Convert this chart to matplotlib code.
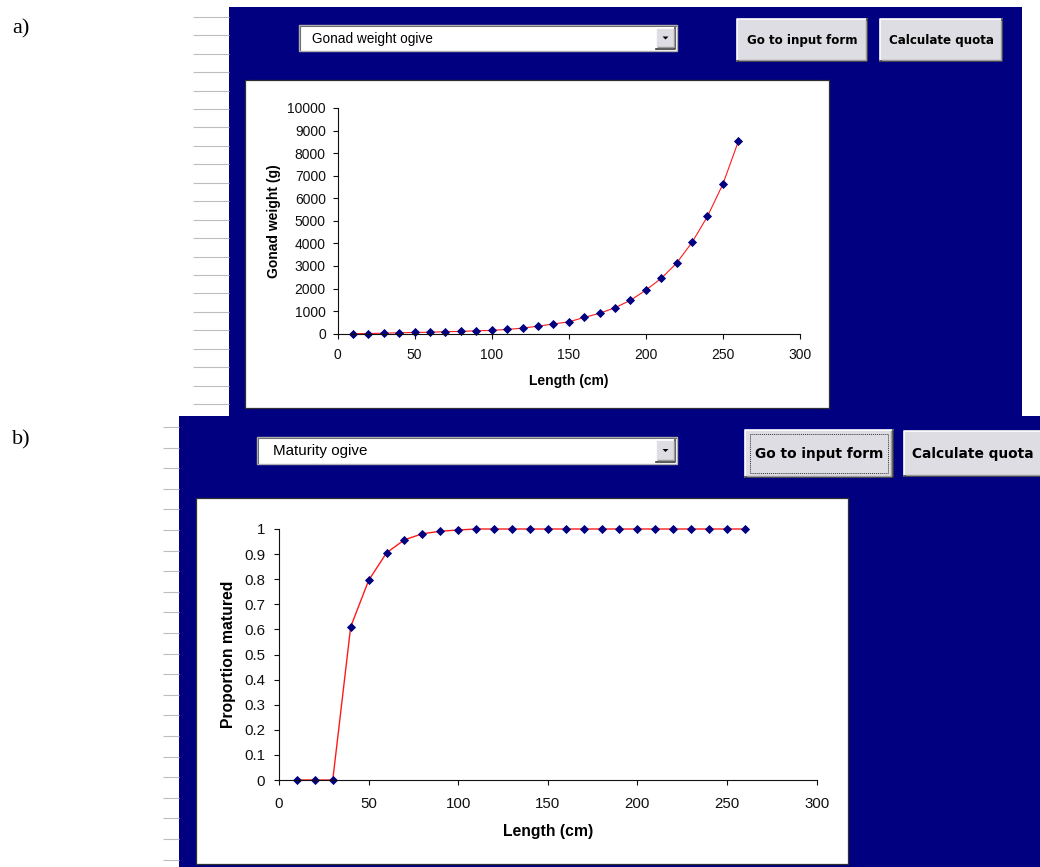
import numpy as np
import matplotlib
matplotlib.use('Agg')
import matplotlib.pyplot as plt
from matplotlib.patches import Rectangle, Polygon
from matplotlib.ticker import FuncFormatter

# Values
length_cm = [10, 20, 30, 40, 50, 60, 70, 80, 90, 100, 110, 120, 130,
             140, 150, 160, 170, 180, 190, 200, 210, 220, 230, 240, 250, 260]
gonad_weight_g = [1, 8, 25, 40, 55, 65, 90, 100, 130, 145, 190, 245, 335,
                  430, 525, 720, 905, 1150, 1480, 1930, 2450, 3130, 4050,
                  5200, 6630, 8520]
prop_matured = [0, 0, 0, 0.61, 0.795, 0.905, 0.957, 0.981, 0.991, 0.996,
                1, 1, 1, 1, 1, 1, 1, 1, 1, 1, 1, 1, 1, 1, 1, 1]

combo_labels = ['Gonad weight ogive', 'Maturity ogive']
button_labels = ['Go to input form', 'Calculate quota']
panel_tags = ['a)', 'b)']

# Styles
NAVY = '#000080'
BTN_FACE = '#dedde3'
SANS = ['Liberation Sans', 'DejaVu Sans']
plt.rcParams['font.family'] = SANS

W, H = 1040, 867
fig = plt.figure(figsize=(W / 100, H / 100), dpi=100)
fig.patch.set_facecolor('white')

# background layer in pixel coordinates (y down)
bg = fig.add_axes([0, 0, 1, 1], zorder=0)
bg.set_xlim(0, W)
bg.set_ylim(H, 0)
bg.axis('off')


def px_rect(x0, y0, x1, y1):
    return [x0 / W, 1 - y1 / H, (x1 - x0) / W, (y1 - y0) / H]


def raised(x0, y0, x1, y1, face=BTN_FACE):
    bg.add_patch(Rectangle((x0, y0), x1 - x0, y1 - y0, fc=face, ec='none'))
    bg.plot([x0, x0, x1], [y1, y0, y0], color='white', lw=1.2)
    bg.plot([x0, x1, x1], [y1, y1, y0], color='#3a3a3a', lw=1.2)
    bg.plot([x0 + 1.5, x1 - 1.5, x1 - 1.5], [y1 - 1.5, y1 - 1.5, y0 + 1.5],
            color='#9a9a9a', lw=1.0)


def button(x0, y0, x1, y1, label, size, focus=False):
    raised(x0, y0, x1, y1)
    bg.text((x0 + x1) / 2, (y0 + y1) / 2 + 0.5, label, ha='center', va='center',
            fontsize=size, fontweight='bold', family='DejaVu Sans', color='black')
    if focus:
        bg.add_patch(Rectangle((x0 + 5, y0 + 4), x1 - x0 - 10, y1 - y0 - 8,
                               fill=False, ec='#303030', lw=0.7, ls=(0, (1, 1))))


def combo(x0, y0, x1, y1, label, size, text_dx):
    bg.add_patch(Rectangle((x0, y0), x1 - x0, y1 - y0, fc='white',
                           ec='#b0b0b0', lw=1.0))
    bg.plot([x0 + 1, x0 + 1, x1 - 1], [y1 - 1, y0 + 1, y0 + 1],
            color='#707070', lw=0.8)
    ax0, ax1 = x1 - 21, x1 - 2
    ay0, ay1 = y0 + 2.5, y1 - 2.5
    raised(ax0, ay0, ax1, ay1)
    cx, cy = (ax0 + ax1) / 2, (ay0 + ay1) / 2
    bg.add_patch(Polygon([[cx - 3, cy - 1.5], [cx + 3, cy - 1.5], [cx, cy + 1.5]],
                         closed=True, fc='black', ec='none'))
    bg.text(x0 + text_dx, (y0 + y1) / 2 + 0.5, label, ha='left', va='center',
            fontsize=size, color='black')


def chart_axes(box, x_pad, y_pad, tick_size):
    ax = fig.add_axes(px_rect(*box), zorder=2)
    ax.set_facecolor('none')
    for side in ('top', 'right'):
        ax.spines[side].set_visible(False)
    for side in ('left', 'bottom'):
        ax.spines[side].set_color('#101010')
        ax.spines[side].set_linewidth(0.8)
    ax.tick_params(direction='out', length=3.5, width=0.8, colors='#101010',
                   labelsize=tick_size)
    ax.tick_params(axis='x', pad=x_pad)
    ax.tick_params(axis='y', pad=y_pad)
    return ax


# spreadsheet row lines at the left of each screenshot
bg.hlines(np.arange(16.7, 408, 18.45), 193, 229, color='#bdbdbd', lw=0.8)
bg.hlines(np.arange(427, 867, 20.6), 163, 179, color='#bdbdbd', lw=0.8)

# navy forms
bg.add_patch(Rectangle((228.5, 7), 1022 - 228.5, 416 - 7, fc=NAVY, ec='none'))
bg.add_patch(Rectangle((179, 416), W - 179, H - 416, fc=NAVY, ec='none'))

# chart areas
bg.add_patch(Rectangle((245, 80), 584, 328, fc='white', ec='#303030', lw=0.9))
bg.add_patch(Rectangle((196, 498), 652, 366, fc='white', ec='#303030', lw=0.9))

# form controls
combo(299, 25, 677, 51, combo_labels[0], 9.8, 13)
combo(257, 437, 677, 464, combo_labels[1], 10.9, 16)
button(737, 19, 867, 61, button_labels[0], 8.6)
button(880, 19, 1002, 61, button_labels[1], 8.6)
button(745, 429.5, 892.5, 477, button_labels[0], 9.9, focus=True)
button(904, 430.5, 1042, 476, button_labels[1], 9.9)

# panel tags
bg.text(12, 29, panel_tags[0], ha='left', va='center', fontsize=16,
        family='Liberation Serif')
bg.text(12, 440, panel_tags[1], ha='left', va='center', fontsize=16,
        family='Liberation Serif')

num_fmt = FuncFormatter(lambda v, p: f'{v:g}')

# a) gonad weight ogive
ax_a = chart_axes((337.5, 108, 800, 333.7), 6.5, 4.9, 10)
ax_a.plot(length_cm, gonad_weight_g, color='#ff1a1a', lw=0.8, marker='D',
          ms=3.6, mfc=NAVY, mec=NAVY, mew=0.6, clip_on=False)
ax_a.set_xlim(0, 300)
ax_a.set_ylim(0, 10000)
ax_a.set_xticks(np.arange(0, 301, 50))
ax_a.set_yticks(np.arange(0, 10001, 1000))
ax_a.xaxis.set_major_formatter(num_fmt)
ax_a.yaxis.set_major_formatter(num_fmt)
ax_a.set_xlabel('Length (cm)', fontsize=10, fontweight='bold', va='center')
ax_a.set_ylabel('Gonad weight (g)', fontsize=10, fontweight='bold', va='center')
ax_a.xaxis.set_label_coords(0.5, -0.2096)
ax_a.yaxis.set_label_coords(-0.1373, 0.5)

# b) maturity ogive
ax_b = chart_axes((279, 529, 816.6, 780), 8.7, 6.5, 10.8)
ax_b.plot(length_cm, prop_matured, color='#ff1a1a', lw=1.0, marker='D',
          ms=4.2, mfc=NAVY, mec=NAVY, mew=0.6, clip_on=False)
ax_b.set_xlim(0, 300)
ax_b.set_ylim(0, 1)
ax_b.set_xticks(np.arange(0, 301, 50))
ax_b.set_yticks(np.arange(0, 1.01, 0.1))
ax_b.xaxis.set_major_formatter(num_fmt)
ax_b.yaxis.set_major_formatter(num_fmt)
ax_b.set_xlabel('Length (cm)', fontsize=11.3, fontweight='bold', va='center')
ax_b.set_ylabel('Proportion matured', fontsize=11.3, fontweight='bold', va='center')
ax_b.xaxis.set_label_coords(0.5, -0.207)
ax_b.yaxis.set_label_coords(-0.0939, 0.5)

plt.savefig('out.png', dpi=100)
plt.close()
